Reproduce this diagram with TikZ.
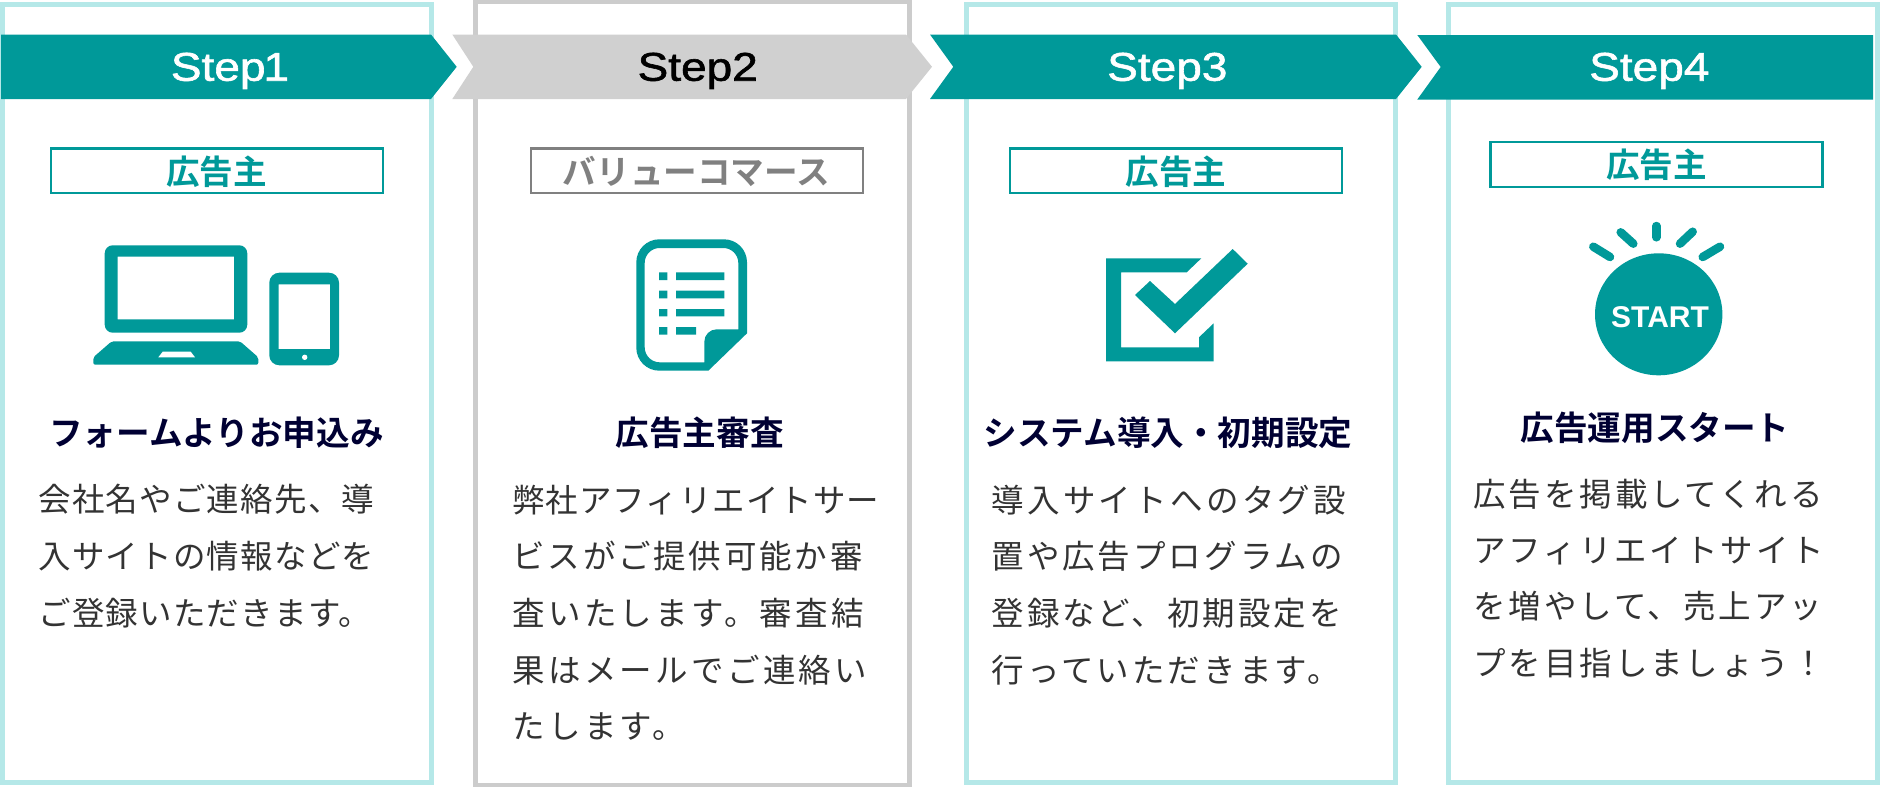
\documentclass[tikz,border=0pt]{standalone}
\usepackage{fontspec}
\setmainfont{Liberation Sans}
\newfontfamily\jpfont{Noto Sans CJK JP}
\newfontfamily\jpbold{Noto Sans CJK JP Bold}
\newfontfamily\stepfont[FakeStretch=1.15,FakeBold=1.5]{Liberation Sans}
\definecolor{teal1}{HTML}{009999}
\definecolor{lightteal}{HTML}{B5E8E8}
\definecolor{boxgray}{HTML}{CCCCCC}
\definecolor{bannergray}{HTML}{D0D0D0}
\definecolor{taggray}{HTML}{808080}
\definecolor{navy1}{HTML}{000033}
\definecolor{bodygray}{HTML}{333333}
\tikzset{
  cardteal/.style={draw=lightteal,line width=5pt,fill=white},
  cardgray/.style={draw=boxgray,line width=5pt,fill=white},
  stepl/.style={anchor=base,inner sep=0pt,font=\stepfont\fontsize{40}{40}\selectfont},
  tagbox/.style={draw=#1,line width=2.3pt,fill=white},
  tagtext/.style={anchor=center,inner sep=0pt,text=#1,font=\jpbold\fontsize{33.6}{33.6}\selectfont},
  headl/.style={anchor=center,inner sep=0pt,text=navy1,font=\jpbold\fontsize{33.6}{33.6}\selectfont},
  bodyl/.style={anchor=base west,inner sep=0pt,text=bodygray,font=\jpfont\fontsize{32.5}{32.5}\selectfont},
  ray/.style={draw=teal1,line width=8.5pt,line cap=round},
}
\newcommand{\bodyline}[5]{\node[bodyl] (#1) at (#2-0.7,#3+12) {\pgfmathsetmacro\lsval{(#4-32.5)/32.5*100}\addfontfeature{LetterSpace=\lsval}#5};}
\begin{document}
\begin{tikzpicture}[x=1pt,y=-1pt]
\useasboundingbox (0,0) rectangle (1880,787);
% cards
\draw[cardteal] (2.5,4.5) rectangle (431.5,782.5);
\draw[cardgray] (475,1.5) rectangle (909.5,785);
\draw[cardteal] (966.5,4.5) rectangle (1395.5,782.5);
\draw[cardteal] (1448,4.5) rectangle (1877.5,782.5);
% banners
\fill[teal1] (1,34.5) -- (431,34.5) -- (456.7,66.8) -- (431,99) -- (1,99) -- cycle;
\fill[bannergray] (452.3,34.5) -- (906,34.5) -- (932,66.8) -- (906,99) -- (452.3,99) -- (473.3,66.8) -- cycle;
\fill[teal1] (930,34.5) -- (1396,34.5) -- (1421.7,66.8) -- (1396,99) -- (930,99) -- (953.3,66.8) -- cycle;
\fill[teal1] (1417.3,35) -- (1873,35) -- (1873,99.5) -- (1417.3,99.5) -- (1440.7,67) -- cycle;
\node[stepl,text=white] (st1) at (230,80.7) {Step\kern-2pt 1};
\node[stepl,text=black] (st2) at (697.7,80.7) {Step2};
\node[stepl,text=white] (st3) at (1167.3,80.7) {Step3};
\node[stepl,text=white] (st4) at (1649.3,80.7) {Step4};
% tags
\draw[tagbox=teal1] (51,148.5) rectangle (383,193);
\draw[tagbox=taggray] (531,148.5) rectangle (863,193);
\draw[tagbox=teal1] (1009.7,148.5) rectangle (1341.7,193);
\draw[tagbox=teal1] (1490.5,142) rectangle (1822.5,186.7);
\node[tagtext=teal1] (tag1) at (216.7,171.5) {広告主};
\node[tagtext=taggray] (tag2) at (696.5,171.5) {バリューコマース};
\node[tagtext=teal1] (tag3) at (1176,171.5) {広告主};
\node[tagtext=teal1] (tag4) at (1656.7,165) {広告主};
% laptop + tablet
\fill[teal1,even odd rule,rounded corners=0pt]
  [rounded corners=8pt] (104.7,245.3) rectangle (247.3,332.7)
  [sharp corners] (117.7,256.7) rectangle (234,319.3);
\fill[teal1,rounded corners=2pt] (111.7,341.3) -- (240,341.3) -- (258.3,357.3) -- (258.3,364.7) -- (93.3,364.7) -- (93.3,357.3) -- cycle;
\fill[white] (162.7,351.7) -- (190.7,351.7) -- (195,357.3) -- (158.3,357.3) -- cycle;
\fill[teal1,even odd rule]
  [rounded corners=10pt] (269.3,272.7) rectangle (339,365.3)
  [sharp corners] (278.7,284.3) rectangle (330,349);
\fill[white] (304.7,357.3) circle (2.7);
% document
\fill[teal1,even odd rule]
  (659.3,239.3) -- (724,239.3) .. controls (736.7,239.3) and (747,249.6) .. (747,262.3)
  -- (747,333.3) -- (708.3,370.7) -- (659.3,370.7)
  .. controls (646.6,370.7) and (636.3,360.4) .. (636.3,347.7) -- (636.3,262.3)
  .. controls (636.3,249.6) and (646.6,239.3) .. (659.3,239.3) -- cycle
  (659.7,248) .. controls (651.4,248) and (644.7,254.7) .. (644.7,263)
  -- (644.7,347.3) .. controls (644.7,355.6) and (651.4,362.3) .. (659.7,362.3)
  -- (704.3,362.3) -- (704.3,341.7) .. controls (704.3,334.9) and (709.9,329.3) .. (716.7,329.3)
  -- (738.3,329.3) -- (738.3,263) .. controls (738.3,254.7) and (731.6,248) .. (723.3,248) -- cycle;
\fill[teal1] (659,272.3) rectangle (667.3,280) (676,272.3) rectangle (724.3,280);
\fill[teal1] (659,290.7) rectangle (667.3,298.3) (676,290.7) rectangle (724.3,298.3);
\fill[teal1] (659,309) rectangle (667.3,316.3) (676,309) rectangle (724.3,316.3);
\fill[teal1] (659,327) rectangle (667.3,334.7) (676,327) rectangle (696,334.7);
% check
\fill[teal1] (1106,258.3) -- (1201.3,258.3) -- (1186.7,272.3) -- (1121,272.3) -- (1121,347.3) -- (1199,347.3) -- (1199,337.3) -- (1213.7,323.3) -- (1213.7,361.3) -- (1106,361.3) -- cycle;
\fill[teal1] (1135,295) -- (1150,281) -- (1175,304) -- (1232.7,249) -- (1247.7,263.7) -- (1175,333.3) -- cycle;
% start
\fill[teal1] (1658.7,314.3) ellipse [x radius=63.7,y radius=61];
\node[anchor=base,inner sep=0pt,text=white,font=\bfseries\fontsize{30}{30}\selectfont] (startl) at (1660,327.7) {START};
\draw[ray] (1656.3,226) -- (1656.3,237.3);
\draw[ray] (1620.7,232.3) -- (1633.3,243.7);
\draw[ray] (1692.7,231.7) -- (1680,243.7);
\draw[ray] (1593.3,246.7) -- (1610,257);
\draw[ray] (1720,246.7) -- (1702.7,257);
% headings
\node[headl] (h1) at (216.5,433) {フォームよりお申込み};
\node[headl] (h2) at (699.7,433) {広告主審査};
\node[headl] (h3) at (1168,433) {システム導入・初期設定};
\node[headl] (h4) at (1655,428) {広告運用スタート};
% body
\bodyline{a1}{39}{499.5}{33.7}{会社名やご連絡先、導}
\bodyline{a2}{39}{556.5}{33.7}{入サイトの情報などを}
\bodyline{a3}{39}{613}{33.7}{ご登録いただきます。}
\bodyline{b1}{513}{500}{33.5}{弊社アフィリエイトサー}
\bodyline{b2}{513}{556.7}{35.3}{ビスがご提供可能か審}
\bodyline{b3}{513}{613}{35.8}{査いたします。審査結}
\bodyline{b4}{513}{670}{35.8}{果はメールでご連絡い}
\bodyline{b5}{513}{726.7}{35.8}{たします。}
\bodyline{c1}{992}{500}{35.8}{導入サイトへのタグ設}
\bodyline{c2}{992}{556.7}{35.5}{置や広告プログラムの}
\bodyline{c3}{992}{613}{35.5}{登録など、初期設定を}
\bodyline{c4}{992}{670}{35.6}{行っていただきます。}
\bodyline{d1}{1474}{494}{35.4}{広告を掲載してくれる}
\bodyline{d2}{1474}{550}{35.4}{アフィリエイトサイト}
\bodyline{d3}{1474}{606.7}{35.4}{を増やして、売上アッ}
\bodyline{d4}{1474}{663}{35.4}{プを目指しましょう！}
\end{tikzpicture}
\end{document}
